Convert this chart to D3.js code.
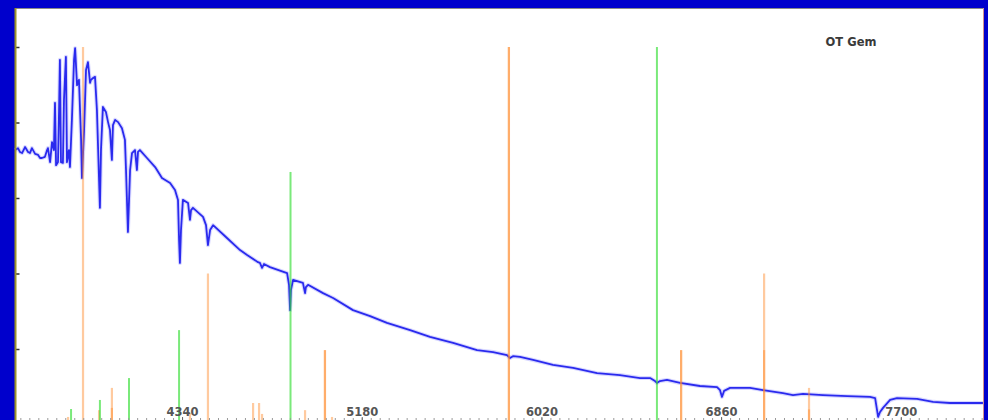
<!DOCTYPE html>
<html>
<head>
<meta charset="utf-8">
<script src="https://cdn.jsdelivr.net/npm/d3@7"></script>
<style>
  html, body { margin: 0; padding: 0; background: #0000cc; overflow: hidden; }
  svg { display: block; }
</style>
</head>
<body>
<svg id="chart" width="988" height="420"></svg>
<script>
// OT Gem spectrum (normalised flux vs wavelength, Å)
const wavelength = [
  3559, 3573, 3582, 3592, 3606, 3620, 3629, 3638, 3653, 3667, 3676, 3685, 3699, 3709, 3713,
  3723, 3732, 3741, 3746, 3751, 3760, 3765, 3769, 3774, 3783, 3788, 3797, 3802, 3811, 3816,
  3825, 3835, 3840, 3849, 3858, 3868, 3872, 3882, 3891, 3900, 3910, 3914, 3924, 3933, 3942,
  3956, 3961, 3970, 3984, 3994, 4003, 4012, 4017, 4027, 4041, 4059, 4073, 4078, 4087, 4097,
  4106, 4120, 4129, 4134, 4143, 4176, 4214, 4246, 4284, 4307, 4321, 4326, 4330, 4335, 4344,
  4368, 4377, 4382, 4391, 4438, 4452, 4461, 4471, 4485, 4550, 4611, 4644, 4695, 4704, 4714,
  4723, 4751, 4831, 4840, 4845, 4849, 4859, 4905, 4915, 4919, 4929, 4999, 5046, 5139, 5219,
  5298, 5406, 5499, 5607, 5719, 5794, 5859, 5873, 5887, 5920, 5981, 6074, 6168, 6280, 6387,
  6481, 6528, 6551, 6560, 6574, 6607, 6668, 6761, 6841, 6855, 6864, 6874, 6902, 6995, 7056,
  7149, 7196, 7243, 7336, 7449, 7556, 7580, 7589, 7594, 7603, 7617, 7650, 7682, 7776, 7851,
  7930, 8084
];
const flux = [
  0.727, 0.732, 0.722, 0.719, 0.735, 0.722, 0.719, 0.732, 0.717, 0.714, 0.706, 0.706, 0.709, 0.727, 0.732,
  0.695, 0.748, 0.727, 0.852, 0.687, 0.695, 0.833, 0.966, 0.695, 0.693, 0.860, 0.974, 0.695, 0.727, 0.682,
  0.807, 0.966, 0.997, 0.899, 0.913, 0.754, 0.653, 0.780, 0.939, 0.960, 0.905, 0.913, 0.918, 0.921, 0.833,
  0.574, 0.727, 0.841, 0.828, 0.801, 0.780, 0.701, 0.793, 0.807, 0.801, 0.785, 0.754, 0.674, 0.510, 0.674,
  0.719, 0.727, 0.674, 0.722, 0.727, 0.706, 0.682, 0.653, 0.640, 0.621, 0.595, 0.489, 0.428, 0.515, 0.595,
  0.587, 0.542, 0.568, 0.574, 0.550, 0.528, 0.475, 0.515, 0.528, 0.494, 0.462, 0.449, 0.430, 0.428, 0.415,
  0.425, 0.417, 0.401, 0.370, 0.303, 0.356, 0.383, 0.375, 0.348, 0.364, 0.370, 0.348, 0.335, 0.303, 0.287,
  0.269, 0.250, 0.232, 0.216, 0.197, 0.192, 0.184, 0.176, 0.181, 0.179, 0.171, 0.158, 0.150, 0.136, 0.131,
  0.123, 0.123, 0.115, 0.110, 0.115, 0.118, 0.110, 0.102, 0.099, 0.091, 0.073, 0.089, 0.097, 0.097, 0.091,
  0.083, 0.078, 0.081, 0.078, 0.075, 0.073, 0.070, 0.038, 0.020, 0.033, 0.044, 0.065, 0.070, 0.068, 0.060,
  0.057, 0.057
];

// Helium line markers (blended lines are listed once per component)
const heliumWave     = [3807, 3877, 3952, 4012, 4012, 4377, 4461, 4672, 4700, 4714, 4915, 5008, 5008, 5041, 5868, 5868, 6673, 6673, 7061, 7061, 7271, 7271];
const heliumStrength = [0.020, 1.000, 0.038, 0.097, 0.044, 0.030, 0.400, 0.057, 0.057, 0.028, 0.038, 0.197, 0.197, 0.020, 1.000, 1.000, 0.197, 0.197, 0.400, 0.197, 0.097, 0.040];

// Balmer line markers
const balmerWave     = [3821, 3956, 4092, 4326, 4847, 6560];
const balmerStrength = [0.041, 0.065, 0.123, 0.250, 0.669, 1.000];

const xTickValues = [4340, 5180, 6020, 6860, 7700];
const yTickValues = [0.2, 0.4, 0.6, 0.8, 1.0];
const title = "OT Gem";

const W = 988, H = 420;
const svg = d3.select("#chart");

const x = d3.scaleLinear().domain([3559, 8089]).range([15, 984]);
const y = d3.scaleLinear().domain([0, 1]).range([424.5, 47]);

// frame
svg.append("rect").attr("x", 15).attr("y", 8).attr("width", 969).attr("height", H - 8).attr("fill", "#ffffff");
svg.append("line").attr("x1", 15).attr("x2", 984).attr("y1", 8.5).attr("y2", 8.5)
  .attr("stroke", "#8a8a8a").attr("stroke-width", 1);
svg.append("line").attr("x1", 983.5).attr("x2", 983.5).attr("y1", 8).attr("y2", H)
  .attr("stroke", "#d09090").attr("stroke-width", 1);

// spectrum: soft halo under a solid core
const line = d3.line().x((d, i) => x(wavelength[i])).y(d => y(d));
svg.append("path").datum(flux).attr("d", line)
  .attr("fill", "none").attr("stroke", "#9a9aff").attr("stroke-width", 4)
  .attr("stroke-opacity", 0.4).attr("stroke-linejoin", "round");
svg.append("path").datum(flux).attr("d", line)
  .attr("fill", "none").attr("stroke", "#2a2aee").attr("stroke-width", 1.8)
  .attr("stroke-linejoin", "round");

// line markers
svg.append("g").selectAll("line").data(heliumWave).join("line")
  .attr("x1", d => x(d)).attr("x2", d => x(d))
  .attr("y1", (d, i) => y(heliumStrength[i])).attr("y2", H)
  .attr("stroke", "#ff8a2a").attr("stroke-opacity", 0.45).attr("stroke-width", 2.2);
svg.append("g").selectAll("line").data(balmerWave).join("line")
  .attr("x1", d => x(d)).attr("x2", d => x(d))
  .attr("y1", (d, i) => y(balmerStrength[i])).attr("y2", H)
  .attr("stroke", "#33dd33").attr("stroke-opacity", 0.65).attr("stroke-width", 2);

// y axis
const yAxis = svg.append("g").attr("transform", "translate(15.5,0)")
  .call(d3.axisLeft(y).tickValues(yTickValues).tickSizeInner(-4).tickSizeOuter(0).tickFormat(""));
yAxis.select(".domain").remove();
yAxis.selectAll(".tick line").attr("stroke", "#333").attr("stroke-width", 1.5);
svg.append("line").attr("x1", 15.5).attr("x2", 15.5).attr("y1", 8).attr("y2", H)
  .attr("stroke", "#9c9428").attr("stroke-width", 2);

// x axis: minor ticks along the bottom, labels above
const minor = d3.range(3584, 8090, 42);
const xMinor = svg.append("g").attr("transform", `translate(0,${H})`)
  .call(d3.axisTop(x).tickValues(minor).tickSize(2).tickFormat(""));
xMinor.select(".domain").remove();
xMinor.selectAll(".tick line").attr("stroke", "#999");

const xAxis = svg.append("g").attr("transform", `translate(0,${H})`)
  .call(d3.axisTop(x).tickValues(xTickValues).tickSize(3).tickPadding(1.5).tickFormat(d3.format("d")));
xAxis.select(".domain").remove();
xAxis.selectAll(".tick line").attr("stroke", "#666");
xAxis.selectAll(".tick text")
  .attr("font-family", "'DejaVu Sans', Verdana, sans-serif")
  .attr("font-weight", "bold").attr("font-size", "11.5px").attr("fill", "#555555");

// title
svg.append("text").attr("x", 851).attr("y", 46).attr("text-anchor", "middle")
  .attr("font-family", "'DejaVu Sans', Verdana, sans-serif")
  .attr("font-weight", "bold").attr("font-size", "11.5px").attr("fill", "#3a3a3a")
  .text(title);
</script>
</body>
</html>
